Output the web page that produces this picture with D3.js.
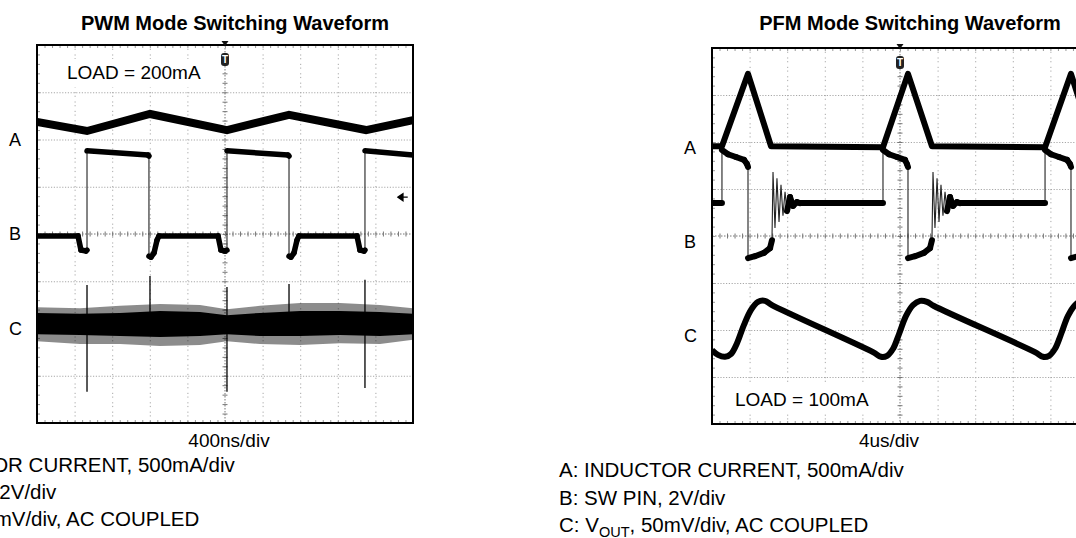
<!DOCTYPE html>
<html>
<head>
<meta charset="utf-8">
<script src="https://cdn.jsdelivr.net/npm/d3@7"></script>
<style>
  body { margin: 0; background: #fff; }
  svg { display: block; font-family: "Liberation Sans", Arial, sans-serif; }
</style>
</head>
<body>
<div id="container"></div>
<script>
// ---- PWM scope shot: time in ns (400ns/div), trace values in screen divisions (0 = centre line)
const pwmA = [[0,2.37],[532,2.18],[1202,2.54],[2021,2.20],[2681,2.52],[3500,2.20],[4000,2.41]];
const pwmB = [[0,-0.04],[436,-0.04],[468,-0.34],[521,-0.36],[532,-0.34],[532,1.76],[1181,1.67],[1191,1.65],
  [1191,-0.47],[1213,-0.49],[1245,-0.40],[1277,-0.13],[1298,-0.04],[1926,-0.04],[1957,-0.34],[2000,-0.36],
  [2021,-0.34],[2021,1.76],[2670,1.67],[2681,1.65],[2681,-0.47],[2702,-0.49],[2734,-0.40],[2766,-0.13],
  [2787,-0.04],[3404,-0.04],[3436,-0.34],[3479,-0.36],[3489,-0.34],[3489,1.76],[4000,1.67]];
const pwmCTime    = [0,457,883,1309,1734,2021,2372,2798,3223,3649,4000];
const pwmCCoreTop = [-1.67,-1.69,-1.67,-1.63,-1.65,-1.72,-1.67,-1.63,-1.63,-1.65,-1.69];
const pwmCCoreBot = [-2.12,-2.14,-2.16,-2.18,-2.16,-2.12,-2.16,-2.16,-2.14,-2.16,-2.12];
const pwmCFuzzTop = [-1.55,-1.57,-1.52,-1.48,-1.50,-1.59,-1.52,-1.46,-1.46,-1.50,-1.57];
const pwmCFuzzBot = [-2.27,-2.33,-2.33,-2.37,-2.35,-2.27,-2.33,-2.35,-2.31,-2.33,-2.24];
// [time, top, bottom] of the switching spikes on Vout
const pwmCSpikes = [[532,-1.08,-3.34],[1202,-0.89,-1.67],[2021,-1.12,-3.34],[2681,-1.06,-1.65],[3489,-0.97,-3.26]];

// ---- PFM scope shot: time in us (4us/div)
const pfmA = [[0,1.91],[1.06,1.91],[3.83,3.45],[6.28,1.91],[18.19,1.89],[20.85,3.45],[23.40,1.91],
  [35.43,1.89],[38.19,3.45],[40.64,1.91]];
const pfmB = [[0,0.70],[1.06,0.70],[1.06,1.83],[1.70,1.74],[2.55,1.68],[3.40,1.62],[3.72,1.53],[3.83,1.47],
  [3.83,-0.47],[4.57,-0.43],[5.53,-0.36],[6.17,-0.26],[6.38,-0.09],[6.49,1.36],[6.70,0.17],[6.91,1.23],
  [7.13,0.30],[7.34,1.09],[7.55,0.43],[7.77,0.94],[7.98,0.53],[8.30,0.83],[8.62,0.64],[9.04,0.72],[9.36,0.70],
  [18.19,0.70],[18.19,1.83],[18.83,1.74],[19.68,1.68],[20.53,1.62],[20.74,1.53],[20.85,1.47],[20.85,-0.47],
  [21.60,-0.43],[22.55,-0.36],[23.19,-0.26],[23.40,-0.09],[23.51,1.36],[23.72,0.17],[23.94,1.23],[24.15,0.30],
  [24.36,1.09],[24.57,0.43],[24.79,0.94],[25.00,0.53],[25.32,0.83],[25.64,0.64],[26.06,0.72],[26.38,0.70],
  [35.43,0.70],[35.43,1.83],[36.06,1.74],[36.91,1.68],[37.77,1.62],[38.09,1.53],[38.19,1.47],[38.19,-0.47],
  [38.94,-0.43],[39.89,-0.36]];
const pfmC = [[0,-2.43],[0.64,-2.53],[1.38,-2.57],[2.02,-2.51],[2.66,-2.28],[3.40,-1.89],[4.15,-1.57],
  [4.89,-1.40],[5.64,-1.38],[6.38,-1.47],[17.13,-2.47],[17.98,-2.57],[18.62,-2.55],[19.26,-2.40],[19.89,-2.09],
  [20.64,-1.70],[21.38,-1.47],[22.13,-1.38],[22.87,-1.40],[23.62,-1.49],[34.36,-2.47],[35.21,-2.57],
  [35.85,-2.55],[36.49,-2.40],[37.13,-2.09],[37.87,-1.70],[38.62,-1.47],[39.36,-1.38],[40.5,-1.45]];

const channels = ["A", "B", "C"];
const channelLevels = [2, 0, -2];
const legendLines = ["A: INDUCTOR CURRENT, 500mA/div", "B: SW PIN, 2V/div", "C: V|OUT|, 50mV/div, AC COUPLED"];

const w = 1076, h = 538;
const svg = d3.select("#container").append("svg").attr("width", w).attr("height", h);

function trace(g, pts, x, y, thick, curve) {
  const line = d3.line().x(d => x(d[0])).y(d => y(d[1])).curve(curve || d3.curveLinear);
  if (curve) {
    g.append("path").attr("d", line(pts)).attr("fill", "none").attr("stroke", "#000")
      .attr("stroke-width", thick).attr("stroke-linejoin", "round");
    return;
  }
  g.append("path").attr("d", line(pts)).attr("fill", "none").attr("stroke", "#222").attr("stroke-width", 1.1);
  // steep edges stay thin, flat parts get the fat noisy look
  const segs = d3.pairs(pts).filter(([a, b]) =>
    Math.abs(y(b[1]) - y(a[1])) < 6 * Math.abs(x(b[0]) - x(a[0])) + 0.01);
  g.selectAll(null).data(segs).enter().append("path")
    .attr("d", d => line(d)).attr("fill", "none").attr("stroke", "#000")
    .attr("stroke-width", thick).attr("stroke-linecap", "round");
}

function panel(p) {
  const x = d3.scaleLinear().domain([0, p.tMax]).range([p.left, p.left + 376]);
  const y = d3.scaleLinear().domain([-4, 4]).range([p.top + p.height, p.top]);
  const div = p.tMax / 10;
  const g = svg.append("g");

  // grid (dotted, light grey)
  g.append("g").attr("transform", "translate(0," + p.top + ")")
    .call(d3.axisBottom(x).tickValues(d3.range(1, 10).filter(i => i != 5).map(i => i * div))
      .tickSize(p.height).tickFormat(""))
    .call(a => a.select(".domain").remove())
    .selectAll("line").attr("stroke", "#a8a8a8").attr("stroke-dasharray", "1.2,2.5,1.2,4.5");
  g.append("g").attr("transform", "translate(" + p.left + ",0)")
    .call(d3.axisRight(y).tickValues([-3, -2, -1, 1, 2, 3]).tickSize(376).tickFormat(""))
    .call(a => a.select(".domain").remove())
    .selectAll("line").attr("stroke", "#a8a8a8").attr("stroke-dasharray", "1.2,1.6");

  // centre axes with minor ticks
  const xMinor = d3.range(1, 50).map(i => i * div / 5);
  const yMinor = d3.range(-19, 20).map(i => i / 5);
  g.append("line").attr("x1", p.left).attr("x2", p.left + 376).attr("y1", y(0)).attr("y2", y(0))
    .attr("stroke", "#777").attr("stroke-dasharray", "1.5,1.5");
  g.append("line").attr("x1", x(5 * div)).attr("x2", x(5 * div)).attr("y1", p.top).attr("y2", p.top + p.height)
    .attr("stroke", "#777").attr("stroke-dasharray", "1.5,1.5");
  g.append("g").attr("transform", "translate(0," + (y(0) - 2.5) + ")")
    .call(d3.axisBottom(x).tickValues(xMinor).tickSize(5).tickFormat(""))
    .call(a => a.select(".domain").remove())
    .selectAll("line").attr("stroke", "#777");
  g.append("g").attr("transform", "translate(" + (x(5 * div) - 2.5) + ",0)")
    .call(d3.axisRight(y).tickValues(yMinor).tickSize(5).tickFormat(""))
    .call(a => a.select(".domain").remove())
    .selectAll("line").attr("stroke", "#777");

  // minor ticks along the frame
  g.append("g").attr("transform", "translate(0," + p.top + ")")
    .call(d3.axisBottom(x).tickValues(xMinor).tickSize(3).tickFormat(""))
    .call(a => a.select(".domain").remove()).selectAll("line").attr("stroke", "#999");
  g.append("g").attr("transform", "translate(0," + (p.top + p.height) + ")")
    .call(d3.axisTop(x).tickValues(xMinor).tickSize(3).tickFormat(""))
    .call(a => a.select(".domain").remove()).selectAll("line").attr("stroke", "#999");
  g.append("g").attr("transform", "translate(" + p.left + ",0)")
    .call(d3.axisRight(y).tickValues(yMinor).tickSize(3).tickFormat(""))
    .call(a => a.select(".domain").remove()).selectAll("line").attr("stroke", "#999");

  // load label with white backing
  g.append("rect").attr("x", p.load.x - 8).attr("y", p.load.y - 20).attr("width", 150).attr("height", 28)
    .attr("fill", "#fff");
  g.append("text").attr("x", p.load.x).attr("y", p.load.y).attr("font-size", 19).text(p.load.text);

  // traces
  const clipId = "clip" + p.left;
  svg.append("clipPath").attr("id", clipId).append("rect")
    .attr("x", p.left).attr("y", p.top).attr("width", 376).attr("height", p.height);
  const t = g.append("g").attr("clip-path", "url(#" + clipId + ")");
  p.draw(t, x, y);

  // frame
  g.append("rect").attr("x", p.left).attr("y", p.top).attr("width", 376).attr("height", p.height)
    .attr("fill", "none").attr("stroke", "#000").attr("stroke-width", 2);

  // trigger marker
  const cx = x(5 * div);
  g.append("path").attr("d", `M${cx - 3.5},${p.top - 4}L${cx + 3.5},${p.top - 4}L${cx},${p.top + 1}Z`).attr("fill", "#111");
  g.append("rect").attr("x", cx - 4).attr("y", p.top + 8).attr("width", 8).attr("height", 13).attr("rx", 3)
    .attr("fill", "#222");
  g.append("text").attr("x", cx).attr("y", p.top + 18).attr("text-anchor", "middle").attr("font-size", 10)
    .attr("font-weight", "bold").attr("fill", "#fff").text("T");

  // channel letters
  g.selectAll(null).data(channels).enter().append("text")
    .attr("x", p.left - 28).attr("y", (d, i) => y(channelLevels[i]) + p.labelDy)
    .attr("font-size", 18).text(d => d);

  // title and time base
  g.append("text").attr("x", p.left + 188 + 10).attr("y", 30).attr("text-anchor", "middle")
    .attr("font-size", 20).attr("font-weight", "bold").text(p.title);
  g.append("text").attr("x", p.axisX).attr("y", 447).attr("text-anchor", "middle")
    .attr("font-size", 19).text(p.timebase);

  // legend
  const lg = g.append("g");
  legendLines.forEach((s, i) => {
    const tx = lg.append("text").attr("x", p.legendX).attr("y", p.legendY[i]).attr("font-size", 20.5);
    s.split("|").forEach((part, j) => {
      const sp = tx.append("tspan").text(part);
      if (j == 1) sp.attr("font-size", 14.5).attr("dy", 5);
      if (j == 2) sp.attr("dy", -5);
    });
  });
  return { x, y };
}

const left = panel({
  left: 37, top: 45, height: 378, tMax: 4000,
  title: "PWM Mode Switching Waveform", timebase: "400ns/div", axisX: 229,
  load: { text: "LOAD = 200mA", x: 67, y: 79 }, labelDy: 6,
  legendX: -110, legendY: [472, 499, 526],
  draw: (g, x, y) => {
    const bandTime = pwmCTime.map((t, i) => ({ t, i }));
    g.append("path").datum(bandTime).attr("fill", "#000").attr("opacity", 0.45)
      .attr("d", d3.area().x(d => x(d.t)).y0(d => y(pwmCFuzzBot[d.i])).y1(d => y(pwmCFuzzTop[d.i])));
    g.append("path").datum(bandTime).attr("fill", "#000")
      .attr("d", d3.area().x(d => x(d.t)).y0(d => y(pwmCCoreBot[d.i])).y1(d => y(pwmCCoreTop[d.i])));
    g.selectAll(null).data(pwmCSpikes).enter().append("line")
      .attr("x1", d => x(d[0])).attr("x2", d => x(d[0])).attr("y1", d => y(d[1])).attr("y2", d => y(d[2]))
      .attr("stroke", "#000").attr("stroke-width", 1.3);
    const lineA = d3.line().x(d => x(d[0])).y(d => y(d[1]));
    g.append("path").attr("d", lineA(pwmA)).attr("fill", "none").attr("stroke", "#000")
      .attr("stroke-width", 8);
    trace(g, pwmB, x, y, 5.5);
  }
});

// trigger level arrow on the PWM shot
svg.append("path")
  .attr("d", `M${left.x(3840)},${left.y(0.78)}l5,-3.5v7z M${left.x(3880)},${left.y(0.78)}h6`)
  .attr("fill", "#000").attr("stroke", "#000").attr("stroke-width", 1.3);

panel({
  left: 712, top: 48, height: 376, tMax: 40,
  title: "PFM Mode Switching Waveform", timebase: "4us/div", axisX: 889,
  load: { text: "LOAD = 100mA", x: 735, y: 406 }, labelDy: 12,
  legendX: 559, legendY: [477, 505, 532],
  draw: (g, x, y) => {
    trace(g, pfmA, x, y, 6, d3.curveLinear);
    trace(g, pfmB, x, y, 6);
    trace(g, pfmC, x, y, 6, d3.curveCatmullRom);
  }
});
</script>
</body>
</html>
